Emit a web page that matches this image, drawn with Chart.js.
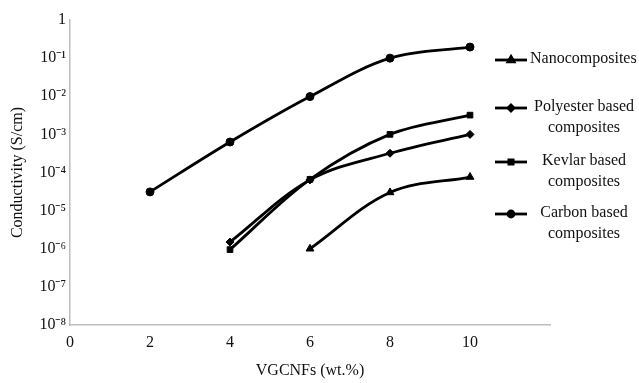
<!DOCTYPE html>
<html>
<head>
<meta charset="utf-8">
<script src="https://cdn.jsdelivr.net/npm/chart.js@4"></script>
<style>
  body { margin: 0; background: #fff; }
  #wrap { width: 639px; height: 383px; position: relative; }
</style>
</head>
<body>
<div id="wrap"><canvas id="chart"></canvas></div>
<script>
// values (log scale, S/cm)
const seriesNames = [
    ["Nanocomposites"],
    ["Polyester based", "composites"],
    ["Kevlar based", "composites"],
    ["Carbon based", "composites"]
];
const nanoX = [6, 8, 10];
const nanoY = [1.0e-6, 3.0e-5, 7.6e-5];
const polyesterX = [4, 6, 8, 10];
const polyesterY = [1.5e-6, 6.4e-5, 3.2e-4, 1.0e-3];
const kevlarX = [4, 6, 8, 10];
const kevlarY = [9.5e-7, 6.6e-5, 1.0e-3, 3.2e-3];
const carbonX = [2, 4, 6, 8, 10];
const carbonY = [3.1e-5, 6.3e-4, 9.8e-3, 1.0e-1, 1.95e-1];
const xTicks = [0, 2, 4, 6, 8, 10];
const yTicks = [1, 1e-1, 1e-2, 1e-3, 1e-4, 1e-5, 1e-6, 1e-7, 1e-8];

const FONT = "'Liberation Serif', 'Times New Roman', serif";
const sup = {"-": "\u207B", "0": "\u2070", "1": "\u00B9", "2": "\u00B2", "3": "\u00B3",
    "4": "\u2074", "5": "\u2075", "6": "\u2076", "7": "\u2077", "8": "\u2078", "9": "\u2079"};

function toPoints(xs, ys) {
    return xs.map((x, i) => ({x: x, y: ys[i]}));
}

function makeSet(name, xs, ys, style, radius) {
    return {
        label: name.join(" "),
        data: toPoints(xs, ys),
        borderColor: "#000",
        backgroundColor: "#000",
        borderWidth: 2.8,
        tension: 0.35,
        pointStyle: style,
        pointRadius: radius,
        pointBorderWidth: 1,
        pointBackgroundColor: "#000",
        pointBorderColor: "#000"
    };
}

// legend drawn by hand: labels wrap on two lines, centred like the original
const sideLegend = {
    id: "sideLegend",
    afterDraw(chart) {
        const ctx = chart.ctx;
        const rows = [60, 108, 162, 214];
        ctx.save();
        chart.data.datasets.forEach((ds, i) => {
            const y = rows[i];
            ctx.strokeStyle = "#000";
            ctx.lineWidth = 2.8;
            ctx.beginPath();
            ctx.moveTo(495, y);
            ctx.lineTo(527, y);
            ctx.stroke();
            ctx.fillStyle = "#000";
            Chart.helpers.drawPoint(ctx, {
                pointStyle: ds.pointStyle, radius: ds.pointRadius - 1,
                borderWidth: 1, rotation: 0
            }, 511, y);
            ctx.fillStyle = "#111";
            ctx.font = "16px " + FONT;
            ctx.textBaseline = "middle";
            const lines = seriesNames[i];
            if (lines.length == 1) {
                ctx.textAlign = "left";
                ctx.fillText(lines[0], 530, y - 1);
            } else {
                ctx.textAlign = "center";
                ctx.fillText(lines[0], 584, y - 1);
                ctx.fillText(lines[1], 584, y + 20);
            }
        });
        ctx.restore();
    }
};

const ctx = document.getElementById("chart").getContext("2d");
const chart = new Chart(ctx, {
    type: "line",
    data: {
        datasets: [
            makeSet(seriesNames[0], nanoX, nanoY, "triangle", 4.5),
            makeSet(seriesNames[1], polyesterX, polyesterY, "rectRot", 4),
            makeSet(seriesNames[2], kevlarX, kevlarY, "rect", 4),
            makeSet(seriesNames[3], carbonX, carbonY, "circle", 4)
        ]
    },
    options: {
        responsive: true,
        maintainAspectRatio: false,
        animation: false,
        layout: { padding: { left: 0, right: 89, top: 20, bottom: 0 } },
        plugins: { legend: { display: false }, tooltip: { enabled: false } },
        scales: {
            x: {
                type: "linear",
                min: 0,
                max: 12,
                afterBuildTicks: (s) => { s.ticks = xTicks.map(v => ({value: v})); },
                afterFit: (s) => { s.height = 58; },
                grid: { display: false, drawTicks: false },
                border: { display: true, color: "#bdbdbd", width: 1.5 },
                ticks: { color: "#111", padding: 8, font: { family: FONT, size: 16 } },
                title: {
                    display: true, text: "VGCNFs (wt.%)", color: "#111",
                    padding: { top: 0, bottom: 3 }, font: { family: FONT, size: 16 }
                }
            },
            y: {
                type: "logarithmic",
                min: 1e-8,
                max: 1,
                afterBuildTicks: (s) => { s.ticks = yTicks.map(v => ({value: v})); },
                afterFit: (s) => { s.width = 70; },
                grid: { display: false, drawTicks: false },
                border: { display: true, color: "#bdbdbd", width: 1.5 },
                ticks: {
                    color: "#111", padding: 4, font: { family: FONT, size: 16 },
                    callback: (v) => {
                        if (v == 1) return "1";
                        const e = String(Math.round(Math.log10(v)));
                        return "10" + e.split("").map(c => sup[c]).join("");
                    }
                },
                title: {
                    display: true, text: "Conductivity (S/cm)", color: "#111",
                    padding: { top: 8, bottom: 0 }, font: { family: FONT, size: 16 }
                }
            }
        }
    },
    plugins: [sideLegend]
});
</script>
</body>
</html>
